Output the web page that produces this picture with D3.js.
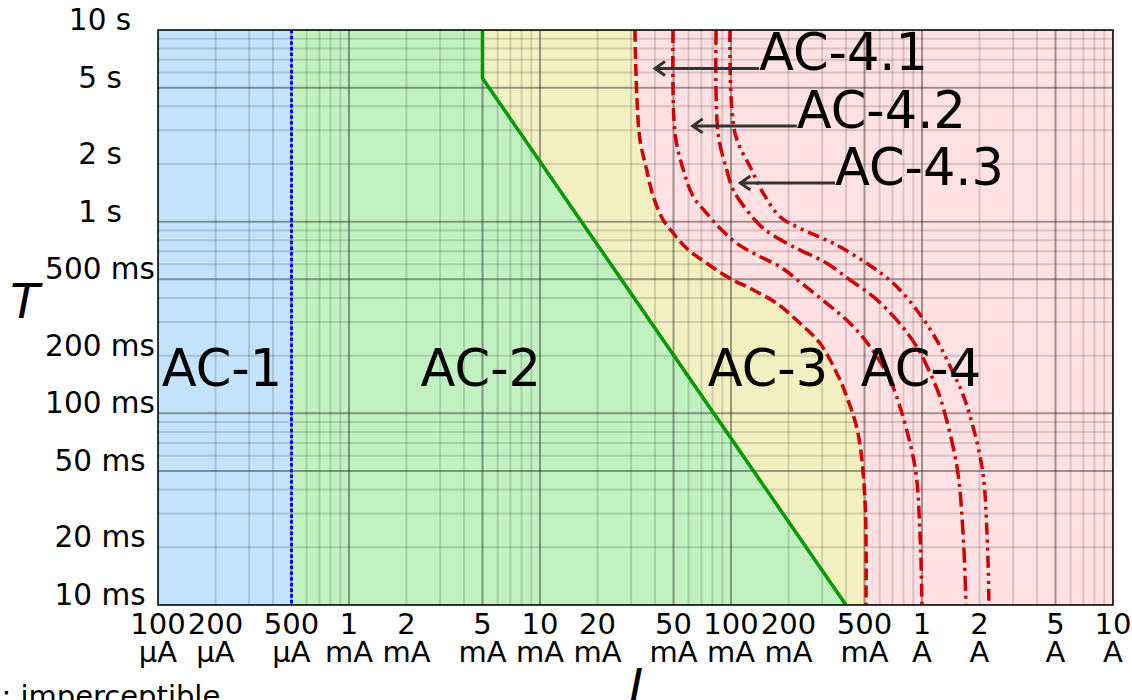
<!DOCTYPE html>
<html>
<head>
<meta charset="utf-8">
<script src="https://cdn.jsdelivr.net/npm/d3@7"></script>
<style>
  body { margin: 0; background: #fff; }
  svg text { font-family: "DejaVu Sans", sans-serif; fill: #000; }
</style>
</head>
<body>
<div id="chart"></div>
<script>
// currents in mA, times in ms
const xTicks = [0.1, 0.2, 0.5, 1, 2, 5, 10, 20, 50, 100, 200, 500, 1000, 2000, 5000, 10000];
const xTickLabels = [
  ["100", "µA"], ["200", "µA"], ["500", "µA"], ["1", "mA"], ["2", "mA"], ["5", "mA"],
  ["10", "mA"], ["20", "mA"], ["50", "mA"], ["100", "mA"], ["200", "mA"], ["500", "mA"],
  ["1", "A"], ["2", "A"], ["5", "A"], ["10", "A"]
];
const yTicks = [10, 20, 50, 100, 200, 500, 1000, 2000, 5000, 10000];
const yTickLabels = ["10 ms", "20 ms", "50 ms", "100 ms", "200 ms", "500 ms", "1 s", "2 s", "5 s", "10 s"];

// zone boundaries
const curveA = 0.5; // AC-1 / AC-2
const curveB = [[5, 10000], [5, 5600], [400, 10]];
const curveC1 = [[31.4, 10000], [32.2, 4313], [33.4, 2668], [36.2, 1860], [39.2, 1350], [44.2, 1020],
  [49.9, 870], [58.6, 726], [74.6, 607], [98.8, 506], [130.9, 440], [173.5, 375], [229.8, 295],
  [292.4, 232], [358, 162], [404, 122], [462, 79], [503, 35.3], [509, 10]];
const curveC2 = [[49.7, 10000], [50.9, 2901], [56.3, 1860], [63.5, 1350], [74.6, 1106], [87.6, 923],
  [107.1, 771], [136.3, 670], [180.5, 582], [229.8, 484], [317, 375], [420, 295], [534, 223],
  [653, 162], [737, 122], [919, 52.5], [976, 23.7], [1000, 10]];
const curveC3 = [[83.5, 10000], [85.5, 2901], [95, 1860], [102.8, 1463], [120.8, 1151], [147.6, 923],
  [195.7, 771], [229.8, 711], [317, 607], [420, 496], [556, 406], [737, 307], [938, 223],
  [1146, 149], [1258, 117], [1525, 52.5], [1640, 23.7], [1700, 10]];
const curveC4 = [[98.8, 10000], [104.9, 2901], [128.4, 1860], [147.6, 1406], [180.5, 1061], [229.8, 923],
  [343, 771], [513, 607], [707, 477], [938, 346], [1194, 241], [1459, 162], [1680, 117],
  [2061, 52.5], [2189, 23.7], [2243, 10]];

const zoneLabels = ["AC-1", "AC-2", "AC-3", "AC-4"];
const zoneLabelCurrents = [0.216, 4.9, 156, 988];
const zoneLabelTime = 139;

const annoLabels = ["AC-4.1", "AC-4.2", "AC-4.3"];
const annoTips = [[40, 6300], [63, 3160], [112, 1590]];
const annoTextAt = [[140, 6300], [221, 3160], [350, 1590]];

class ZoneChart {
  constructor(_config) {
    this.config = {
      parentElement: _config.parentElement,
      containerWidth: _config.containerWidth || 1132,
      containerHeight: _config.containerHeight || 700,
      margin: _config.margin || { top: 30, right: 19, bottom: 95, left: 158 },
    };
    this.initVis();
  }

  initVis() {
    let vis = this;
    vis.width = vis.config.containerWidth - vis.config.margin.left - vis.config.margin.right;
    vis.height = vis.config.containerHeight - vis.config.margin.top - vis.config.margin.bottom;

    vis.svg = d3
      .select(vis.config.parentElement)
      .append("svg")
      .attr("width", vis.config.containerWidth)
      .attr("height", vis.config.containerHeight);

    vis.chart = vis.svg
      .append("g")
      .attr("transform", `translate(${vis.config.margin.left},${vis.config.margin.top})`);

    vis.x = d3.scaleLog().domain([0.1, 10000]).range([0, vis.width]);
    vis.y = d3.scaleLog().domain([10, 10000]).range([vis.height, 0]);

    vis.svg.append("defs")
      .append("clipPath")
      .attr("id", "plot-clip")
      .append("rect")
      .attr("width", vis.width)
      .attr("height", vis.height);

    this.renderVis();
  }

  renderVis() {
    let vis = this;
    const x = vis.x, y = vis.y;
    const smooth = d3.line()
      .x((d) => x(d[0]))
      .y((d) => y(d[1]))
      .curve(d3.curveCatmullRom.alpha(0.5));
    const straight = d3.line().x((d) => x(d[0])).y((d) => y(d[1]));

    const plot = vis.chart.append("g").attr("clip-path", "url(#plot-clip)");

    // zone fills
    plot.append("rect")
      .attr("x", 0).attr("y", 0)
      .attr("width", x(curveA)).attr("height", vis.height)
      .attr("fill", "#c2e3fb");
    plot.append("rect")
      .attr("x", x(curveA)).attr("y", 0)
      .attr("width", vis.width - x(curveA)).attr("height", vis.height)
      .attr("fill", "#ffe1e4");
    plot.append("path")
      .attr("d", smooth(curveC1) + `L${x(curveA)},${y(10)}L${x(curveA)},${y(10000)}Z`)
      .attr("fill", "#f2f0c0");
    plot.append("path")
      .attr("d", straight([[curveA, 10000], ...curveB, [curveA, 10]]) + "Z")
      .attr("fill", "#c1f1c1");

    // grid (darker lines at 1 and 5 of each decade)
    const isMajor = (v) => {
      const m = Math.round(v / Math.pow(10, Math.floor(Math.log10(v) + 1e-9)));
      return m === 1 || m === 5;
    };
    plot.selectAll(".vgrid")
      .data(x.ticks())
      .join("line")
      .attr("class", "vgrid")
      .attr("x1", (d) => x(d)).attr("x2", (d) => x(d))
      .attr("y1", 0).attr("y2", vis.height)
      .attr("stroke", "#000")
      .attr("stroke-opacity", (d) => (isMajor(d) ? 0.37 : 0.14))
      .attr("stroke-width", 2);
    plot.selectAll(".hgrid")
      .data(y.ticks())
      .join("line")
      .attr("class", "hgrid")
      .attr("y1", (d) => y(d)).attr("y2", (d) => y(d))
      .attr("x1", 0).attr("x2", vis.width)
      .attr("stroke", "#000")
      .attr("stroke-opacity", (d) => (isMajor(d) ? 0.37 : 0.14))
      .attr("stroke-width", 2);

    // zone names
    vis.chart.selectAll(".zone-label")
      .data(zoneLabels)
      .join("text")
      .attr("class", "zone-label")
      .attr("x", (d, i) => x(zoneLabelCurrents[i]))
      .attr("y", y(zoneLabelTime))
      .attr("text-anchor", "middle")
      .style("font-size", "51px")
      .text((d) => d);

    // boundary curves
    plot.append("line")
      .attr("x1", x(curveA)).attr("x2", x(curveA))
      .attr("y1", 0).attr("y2", vis.height)
      .attr("stroke", "#0000ff")
      .attr("stroke-width", 3)
      .attr("stroke-dasharray", "3.3,2.4");
    plot.append("path")
      .attr("d", straight(curveB))
      .attr("fill", "none")
      .attr("stroke", "#009a00")
      .attr("stroke-width", 3.5);

    const redCurves = [
      { pts: curveC1, dash: "12,5" },
      { pts: curveC2, dash: "13,5,3,5" },
      { pts: curveC3, dash: "15,5,3,5" },
      { pts: curveC4, dash: "12,5,3,5,3,5" },
    ];
    plot.selectAll(".red-curve")
      .data(redCurves)
      .join("path")
      .attr("class", "red-curve")
      .attr("d", (d) => smooth(d.pts))
      .attr("fill", "none")
      .attr("stroke", "#d10000")
      .attr("stroke-width", 3.5)
      .attr("stroke-dasharray", (d) => d.dash);

    // frame
    vis.chart.append("rect")
      .attr("width", vis.width).attr("height", vis.height)
      .attr("fill", "none")
      .attr("stroke", "#111")
      .attr("stroke-width", 1.6);

    // annotations for AC-4.x
    annoLabels.forEach((label, i) => {
      const tx = x(annoTips[i][0]), ty = y(annoTips[i][1]);
      const sx = x(annoTextAt[i][0]), sy = y(annoTextAt[i][1]);
      const g = vis.chart.append("g");
      g.append("path")
        .attr("d", `M${sx},${sy}L${tx},${ty}M${tx + 10},${ty - 7}L${tx},${ty}L${tx + 10},${ty + 7}`)
        .attr("fill", "none")
        .attr("stroke", "#333")
        .attr("stroke-width", 3)
        .attr("stroke-linejoin", "miter");
      g.append("text")
        .attr("x", sx)
        .attr("y", sy + 2)
        .style("font-size", "51px")
        .text(label);
    });

    // y axis labels
    vis.chart.selectAll(".ytick")
      .data(yTicks)
      .join("text")
      .attr("class", "ytick")
      .attr("x", 100 - vis.config.margin.left)
      .attr("y", (d) => y(d))
      .attr("text-anchor", "middle")
      .style("font-size", "29.5px")
      .text((d, i) => yTickLabels[i]);

    // x axis labels, two lines each
    const xt = vis.chart.selectAll(".xtick")
      .data(xTicks)
      .join("text")
      .attr("class", "xtick")
      .attr("text-anchor", "middle")
      .style("font-size", "29px");
    xt.append("tspan")
      .attr("x", (d) => x(d))
      .attr("y", vis.height + 29)
      .text((d, i) => xTickLabels[i][0]);
    xt.append("tspan")
      .attr("x", (d) => x(d))
      .attr("y", vis.height + 57)
      .text((d, i) => xTickLabels[i][1]);

    // axis titles
    vis.svg.append("text")
      .attr("x", 25)
      .attr("y", 318)
      .attr("text-anchor", "middle")
      .style("font-size", "48px")
      .style("font-style", "italic")
      .text("T");
    vis.svg.append("text")
      .attr("x", 636)
      .attr("y", 703)
      .attr("text-anchor", "middle")
      .style("font-size", "48px")
      .style("font-style", "italic")
      .text("I");

    // legend line, cut off at the window edge like the original
    vis.svg.append("text")
      .attr("x", -67)
      .attr("y", 706)
      .style("font-size", "29px")
      .text("AC-1: imperceptible");
  }
}

new ZoneChart({ parentElement: "#chart" });
</script>
</body>
</html>
